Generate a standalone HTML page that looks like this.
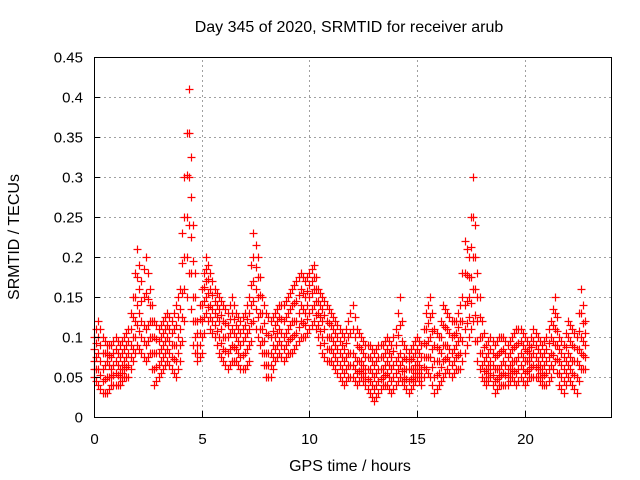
<!DOCTYPE html>
<html><head><meta charset="utf-8"><style>
body{margin:0;background:#fff;}
svg{display:block;font-family:"Liberation Sans",sans-serif;}
</style></head><body>
<svg id="chart" width="640" height="480">
<rect width="640" height="480" fill="#fff"/>
<g id="grid"></g>
<g id="marks"></g>
<rect x="94.5" y="57.5" width="517" height="360" fill="none" stroke="#000" stroke-width="1"/>
<g id="ticks"></g>
<text x="349" y="32" text-anchor="middle" font-size="16">Day 345 of 2020, SRMTID for receiver arub</text>
<text x="350" y="471" text-anchor="middle" font-size="16">GPS time / hours</text>
<text x="19" y="237" text-anchor="middle" font-size="16" transform="rotate(-90 19 237)">SRMTID / TECUs</text>
</svg>
<script>
const xTicks=[0,5,10,15,20];
const yTicks=[0,0.05,0.1,0.15,0.2,0.25,0.3,0.35,0.4,0.45];
const yTickLabels=["0","0.05","0.1","0.15","0.2","0.25","0.3","0.35","0.4","0.45"];
const hours=[0,0.2,0.4,0.6,0.8,1,1.2,1.4,1.6,1.8,2,2.2,2.4,2.6,2.8,3,3.2,3.4,3.6,3.8,4,4.2,4.4,4.6,4.8,5,5.2,5.4,5.6,5.8,6,6.2,6.4,6.6,6.8,7,7.2,7.4,7.6,7.8,8,8.2,8.4,8.6,8.8,9,9.2,9.4,9.6,9.8,10,10.2,10.4,10.6,10.8,11,11.2,11.4,11.6,11.8,12,12.2,12.4,12.6,12.8,13,13.2,13.4,13.6,13.8,14,14.2,14.4,14.6,14.8,15,15.2,15.4,15.6,15.8,16,16.2,16.4,16.6,16.8,17,17.2,17.4,17.6,17.8,18,18.2,18.4,18.6,18.8,19,19.2,19.4,19.6,19.8,20,20.2,20.4,20.6,20.8,21,21.2,21.4,21.6,21.8,22,22.2,22.4,22.6,22.8];
const lowVals=[.05,.04,.03,.03,.04,.04,.04,.05,.05,.07,.09,.08,.07,.08,.04,.05,.06,.07,.06,.05,.07,.12,.18,.09,.07,.08,.13,.11,.10,.08,.07,.06,.07,.07,.06,.06,.07,.12,.10,.08,.05,.05,.07,.08,.07,.08,.08,.09,.10,.10,.11,.12,.10,.08,.07,.07,.06,.05,.04,.05,.05,.04,.05,.04,.03,.02,.03,.04,.04,.03,.04,.05,.04,.03,.04,.05,.04,.06,.05,.03,.04,.05,.06,.05,.06,.06,.08,.10,.12,.07,.05,.04,.05,.03,.04,.04,.04,.05,.04,.05,.04,.05,.05,.05,.04,.04,.05,.07,.04,.03,.05,.04,.03,.06,.06];
const midVals=[.07,.08,.06,.07,.06,.07,.06,.07,.08,.10,.14,.12,.11,.12,.08,.08,.09,.10,.09,.09,.11,.20,.30,.15,.09,.12,.17,.14,.13,.12,.10,.10,.11,.10,.09,.10,.11,.17,.15,.11,.08,.08,.10,.11,.10,.11,.12,.12,.14,.13,.15,.16,.13,.12,.10,.10,.09,.08,.07,.08,.08,.07,.07,.06,.06,.05,.06,.06,.07,.06,.07,.08,.06,.06,.06,.07,.06,.09,.10,.07,.07,.09,.09,.08,.09,.10,.14,.15,.20,.12,.08,.06,.07,.06,.06,.07,.06,.07,.07,.08,.07,.07,.08,.07,.06,.07,.08,.11,.07,.06,.08,.07,.07,.10,.09];
const highVals=[.10,.12,.10,.09,.09,.10,.09,.10,.11,.15,.21,.17,.20,.16,.12,.11,.12,.13,.12,.14,.16,.30,.41,.24,.12,.16,.20,.18,.16,.15,.14,.13,.15,.13,.12,.13,.15,.23,.20,.15,.13,.12,.13,.14,.14,.15,.16,.17,.18,.17,.18,.19,.16,.15,.14,.13,.12,.11,.10,.12,.14,.11,.10,.09,.09,.08,.09,.09,.10,.09,.11,.15,.09,.08,.09,.10,.09,.13,.15,.11,.10,.14,.13,.12,.12,.14,.22,.20,.30,.18,.12,.09,.10,.09,.10,.10,.09,.10,.11,.11,.10,.09,.11,.10,.09,.10,.12,.15,.10,.09,.12,.11,.10,.16,.12];

const X0=94,X1=611,Y0=417,Y1=57,XMAX=24,YMAX=0.45;
const xs=v=>X0+(X1-X0)*v/XMAX;
const ys=v=>Y0-(Y0-Y1)*v/YMAX;
const NS="http://www.w3.org/2000/svg";
const grid=document.getElementById('grid'),ticks=document.getElementById('ticks'),marks=document.getElementById('marks');
function mk(tag,attrs,parent){const e=document.createElementNS(NS,tag);for(const k in attrs)e.setAttribute(k,attrs[k]);parent.appendChild(e);return e;}
xTicks.forEach(t=>{
  const x=Math.round(xs(t))+0.5;
  if(t>0){const g=mk('line',{x1:x,x2:x,y1:Y0,y2:Y1,stroke:'#a0a0a0','stroke-dasharray':'2,3'},grid);
  
  }
  const tk=mk('line',{x1:x,x2:x,y1:Y0,y2:Y0-6,stroke:'#000'},ticks);
  
  
  const tx=mk('text',{x:x,y:444,'text-anchor':'middle','font-size':15},ticks);tx.textContent=t;
  
  
});
yTicks.forEach((t,i)=>{
  const y=Math.round(ys(t))+0.5;
  if(t>0&&t<0.45){const g=mk('line',{x1:X0,x2:X1,y1:y,y2:y,stroke:'#a0a0a0','stroke-dasharray':'2,3'},grid);
  
  }
  const tk=mk('line',{x1:X0,x2:X0+6,y1:y,y2:y,stroke:'#000'},ticks);
  
  
  const tx=mk('text',{x:83,y:y+5,'text-anchor':'end','font-size':15},ticks);tx.textContent=yTickLabels[i];
  
  
});
function plus(t,v){
  const x=Math.round(xs(t))+0.5,y=Math.round(ys(v))+0.5;
  const p=mk('path',{d:`M${x-4} ${y}h8M${x} ${y-4}v8`,stroke:'#ff0000','stroke-width':1.2,fill:'none'},marks);
  
  
}
hours.forEach((t,i)=>{
  const lo=lowVals[i],md=midVals[i],hi=highVals[i];
  [lo,(lo+md)/2,md,(md+hi)/2,hi].forEach(v=>plus(t,v));
  if(i<hours.length-1){
    const tn=(t+hours[i+1])/2;
    const lo2=(lo+lowVals[i+1])/2,md2=(md+midVals[i+1])/2,hi2=(hi+highVals[i+1])/2;
    [lo2,(lo2+md2)/2,md2,(md2+hi2)/2,hi2].forEach(v=>plus(tn,v));
  }
});
</script>
</body></html>
